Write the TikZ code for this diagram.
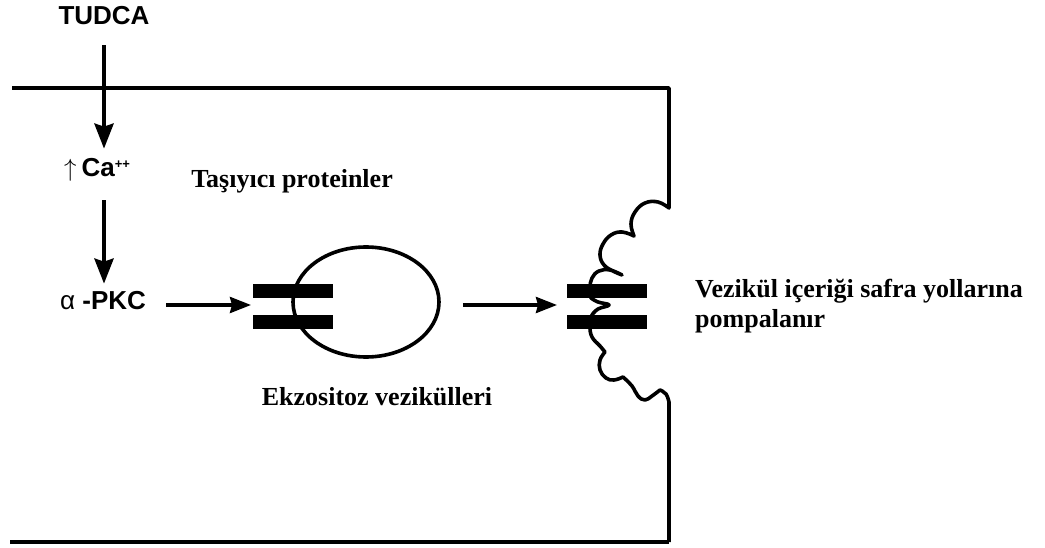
\documentclass[tikz,border=0pt]{standalone}
\usepackage{fontspec}
\setmainfont{Liberation Serif}
\newfontfamily\labelsans{Liberation Sans}
\usetikzlibrary{arrows.meta,shapes.geometric}

\begin{document}
\begin{tikzpicture}[x=1pt,y=-1pt,
  sanslbl/.style={inner sep=0pt,font=\labelsans\bfseries\fontsize{26}{30}\selectfont},
  seriflbl/.style={inner sep=0pt,font=\bfseries\fontsize{26}{30}\selectfont},
  membrane/.style={line width=3.6pt,line join=round},
  varr/.style={line width=4.2pt,-{Stealth[length=25pt,width=19pt,inset=3pt]}},
  harr/.style={line width=3.4pt,-{Stealth[length=21pt,width=16pt,inset=2pt]}},
  bar/.style={fill=black},
  smoothseg/.style={smooth,tension=0.7}]

\useasboundingbox (0,0) rectangle (1045,548);

% cell outline: open on the left, scalloped canalicular membrane on the right
\draw[membrane] (12,88) -- (669,88) -- (669,208)
  -- plot[smoothseg] coordinates {(669,208) (658,202) (645,203) (635,212) (631,224) (634,236)}
  -- plot[smoothseg] coordinates {(634,236) (622,232) (611,235) (603,244) (600,255) (604,265) (613,271) (622,275)}
  -- plot[smoothseg] coordinates {(622,275) (610,270) (599,271) (592,278) (590,288) (591,298)}
  -- plot[smoothseg] coordinates {(591,298) (598,302) (609,305) (598,309) (592,315)}
  -- plot[smoothseg] coordinates {(592,315) (590,326) (592,337) (600,346) (605,352)}
  -- plot[smoothseg] coordinates {(605,352) (600,360) (600,370) (606,378) (614,380) (623,377)}
  -- plot[smoothseg] coordinates {(623,377) (632,386) (638,396) (645,400) (652,396) (660,390)}
  -- plot[smoothseg] coordinates {(660,390) (666,394) (669,402)}
  -- (669,542);
\draw[membrane,line width=4.4pt] (669,542) -- (10,542);

% exocytic vesicle with its transporter proteins
\node[draw,ellipse,line width=3.6pt,minimum width=146pt,minimum height=110pt,inner sep=0pt] (ves) at (366,302) {};
\fill[bar] (253,284) rectangle (333,298);
\fill[bar] (253,315) rectangle (333,329);

% transporter proteins inserted in the membrane
\fill[bar] (567,284) rectangle (647,298);
\fill[bar] (567,315) rectangle (647,329);

% labels
\node[sanslbl,anchor=base] (tudca) at (104,25) {TUDCA};
\node[sanslbl,anchor=base west] (ca) at (64,177)
  {{\normalfont$\uparrow$}\hspace{5pt}Ca\raisebox{0.33em}{\fontsize{13}{13}\selectfont ++}};
\node[sanslbl,anchor=base west] (pkc) at (60,310) {{\mdseries α}~-PKC};
\node[seriflbl,anchor=base] (tasiyici) at (292,188) {Taşıyıcı proteinler};
\node[seriflbl,anchor=base] (ekzo) at (377,405) {Ekzositoz vezikülleri};
\node[seriflbl,anchor=base west] (res1) at (695,298) {Vezikül içeriği safra yollarına};
\node[seriflbl,anchor=base west] (res2) at (695,327) {pompalanır};

\coordinate (vin) at (251,305);
\coordinate (min) at (557,305);

% signalling cascade
\draw[varr,shorten <=20pt,shorten >=10pt] (tudca.south) -- (tudca.south |- ca.north);
\draw[varr,shorten <=18pt,shorten >=8pt] (tudca.south |- ca.south) -- (tudca.south |- pkc.north);
\draw[harr,shorten <=20pt] (pkc.east |- vin) -- (vin);
\draw[harr,shorten <=22pt] (ves.east |- min) -- (min);
\end{tikzpicture}
\end{document}
